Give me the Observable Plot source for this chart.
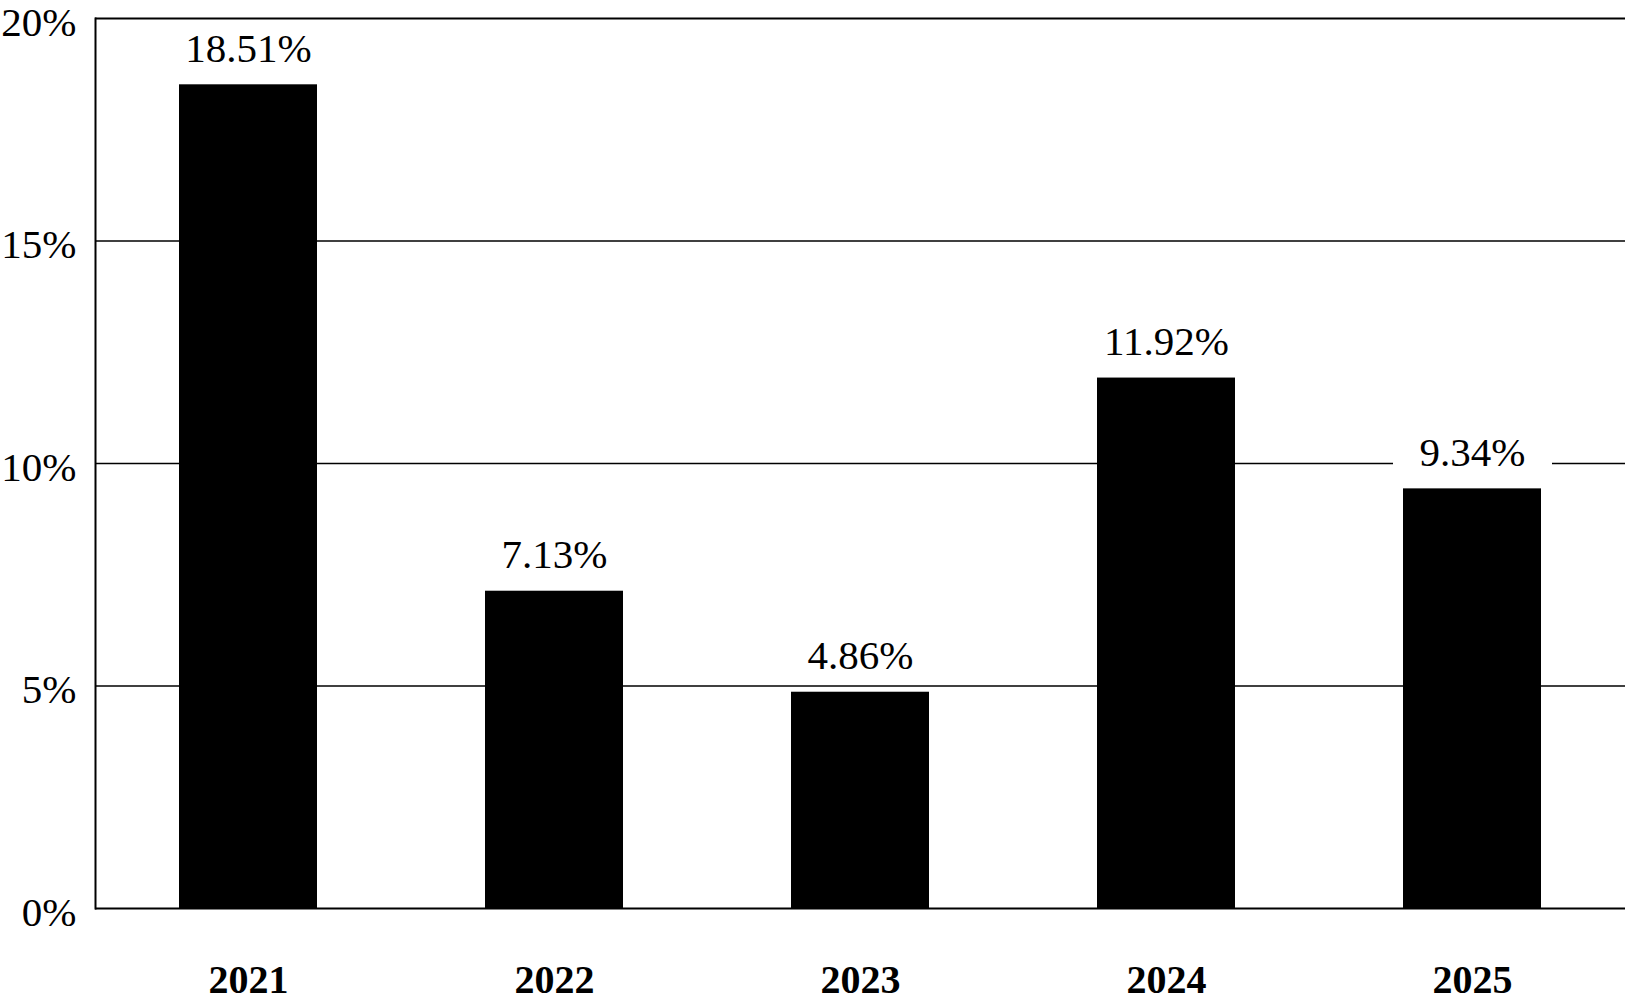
<!DOCTYPE html>
<html>
<head>
<meta charset="utf-8">
<script src="https://cdn.jsdelivr.net/npm/d3@7"></script>
<script src="https://cdn.jsdelivr.net/npm/@observablehq/plot@0.6"></script>
<style>
  html, body { margin: 0; padding: 0; background: #fff; overflow: hidden; }
  #chart svg { display: block; }
</style>
</head>
<body>
<div id="chart"></div>
<script>
const years = ["2021", "2022", "2023", "2024", "2025"];
// bar heights as drawn in the picture
const values = [18.51, 7.13, 4.86, 11.92, 9.43];
// value labels as printed in the picture
const labels = ["18.51%", "7.13%", "4.86%", "11.92%", "9.34%"];
const yTicks = [0, 5, 10, 15, 20];
const gridTicks = [5, 10, 15];

const data = years.map((year, i) => ({year, value: values[i], label: labels[i]}));
const FONT = "'Liberation Serif', 'Times New Roman', Times, serif";

const chart = Plot.plot({
  width: 1625,
  height: 1005,
  marginLeft: 95,
  marginRight: 0,
  marginTop: 18,
  marginBottom: 97,
  style: {fontFamily: FONT, color: "black", background: "white"},
  x: {domain: years, paddingInner: 0.55, paddingOuter: 0.275, label: null},
  y: {domain: [0, 20], ticks: yTicks, label: null},
  marks: [
    Plot.ruleY(gridTicks, {stroke: "black", strokeWidth: 1.6}),
    Plot.barY(data, {x: "year", y: "value", fill: "black"}),
    Plot.barY(data, {x: "year", y1: "value", y2: "value", fill: "white",
      insetTop: -62, insetBottom: 10, insetLeft: -10, insetRight: -11}),
    Plot.text(data, {x: "year", y: "value", text: "label",
      dy: -23, lineAnchor: "bottom", fontSize: 41, fill: "black"}),
    Plot.ruleY([0, 20], {stroke: "black", strokeWidth: 2}),
    Plot.frame({anchor: "left", stroke: "black", strokeWidth: 2}),
    Plot.axisY({ticks: yTicks, tickSize: 0, tickPadding: 19, tickFormat: d => d + "%",
      fontSize: 41, dy: 4, label: null}),
    Plot.axisX({tickSize: 0, tickPadding: 56, fontSize: 40, fontWeight: "bold", label: null})
  ]
});
document.getElementById("chart").appendChild(chart);
</script>
</body>
</html>
